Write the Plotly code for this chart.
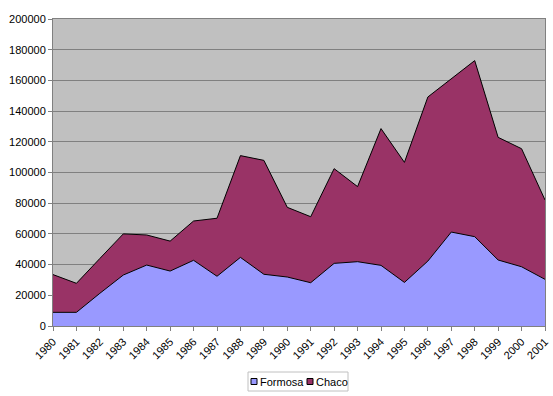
import plotly.graph_objects as go

years = [str(y) for y in range(1980, 2002)]
formosa = [8900, 8900, 21300, 33200, 39700, 35800, 42800, 32400, 44700, 33700, 31900,
           28200, 40800, 41900, 39500, 28400, 42300, 61200, 58200, 43000, 38600, 30400]
total = [33500, 27800, 44000, 60000, 59300, 55300, 68400, 70200, 111000, 107900, 77300,
         71200, 102500, 90800, 128600, 106600, 149200, 161100, 172900, 122900, 115500, 82100]
chaco = [t - f for t, f in zip(total, formosa)]
y_ticks = list(range(0, 200001, 20000))
series = [("Formosa", formosa, "#9999FF"), ("Chaco", chaco, "#993366")]

W, H = 553, 396
ML, MR, MT, MB = 53, 8, 19, 70
PW, PH = W - ML - MR, H - MT - MB


def px(xp):
    return (xp - ML) / PW


def py(yp):
    return (H - MB - yp) / PH


fig = go.Figure()
for name, vals, col in series:
    fig.add_trace(go.Scatter(x=years, y=vals, name=name, stackgroup="one", mode="lines",
                             line=dict(color="#000000", width=1), fillcolor=col,
                             showlegend=False))

# legend box drawn in pixel-derived paper coordinates
shapes = [dict(type="rect", xref="paper", yref="paper", x0=px(248), x1=px(348),
               y0=py(391), y1=py(372), line=dict(color="#C0C0C0", width=1),
               fillcolor="#FFFFFF", layer="above")]
annotations = []
legend_items = [(251, 258, "Formosa", "#9999FF"), (307, 314, "Chaco", "#993366")]
for sx, tx, name, col in legend_items:
    shapes.append(dict(type="rect", xref="paper", yref="paper", x0=px(sx), x1=px(sx + 6),
                       y0=py(384.5), y1=py(378.5), line=dict(color="#000000", width=1),
                       fillcolor=col, layer="above"))
    annotations.append(dict(text=name, xref="paper", yref="paper", x=px(tx), y=py(381.5),
                            xanchor="left", yanchor="middle", showarrow=False,
                            font=dict(size=11, color="#000000")))

fig.update_layout(
    width=W, height=H,
    margin=dict(l=ML, r=MR, t=MT, b=MB),
    paper_bgcolor="#FFFFFF", plot_bgcolor="#C0C0C0",
    font=dict(family="Liberation Sans, Arial", size=11, color="#000000"),
    showlegend=False,
    shapes=shapes, annotations=annotations,
)
fig.update_xaxes(type="category", range=[0, 21], tickangle=-45, ticks="outside",
                 ticklen=4, tickcolor="#808080", showgrid=False, showline=True,
                 linecolor="#808080", mirror=True, zeroline=False, automargin=False)
fig.update_yaxes(range=[0, 200000], tickvals=y_ticks, tickformat="d", ticks="outside",
                 ticklen=4, tickcolor="#808080", showgrid=True, gridcolor="#808080",
                 gridwidth=1, showline=True, linecolor="#808080", mirror=True,
                 zeroline=False, automargin=False)

fig.write_html("out.html", config={"displayModeBar": False},
               post_script="document.body.style.margin='0';")
